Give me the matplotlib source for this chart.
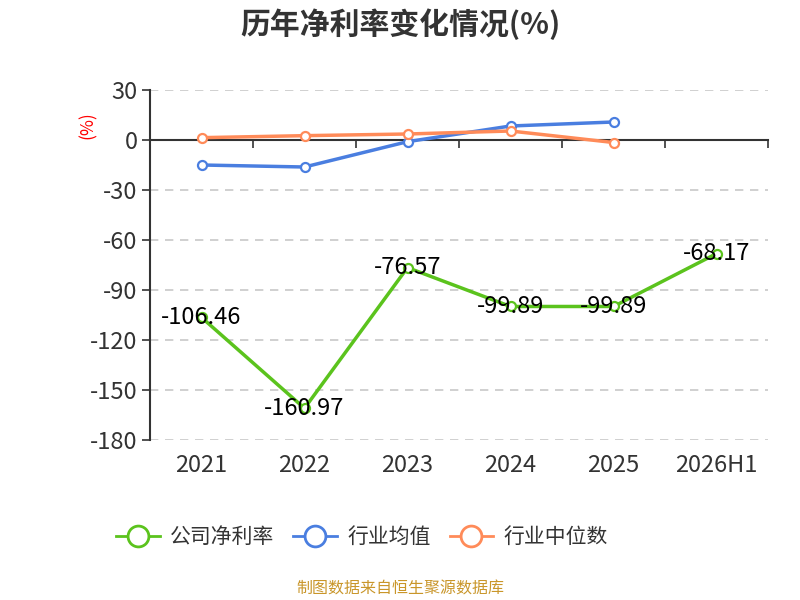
import matplotlib
matplotlib.use("Agg")
import matplotlib.pyplot as plt
from matplotlib.lines import Line2D

plt.rcParams['font.family'] = ['Noto Sans CJK SC', 'DejaVu Sans']
plt.rcParams['axes.unicode_minus'] = False

# ---- data ----
categories = ["2021", "2022", "2023", "2024", "2025", "2026H1"]
company = [-106.46, -160.97, -76.57, -99.89, -99.89, -68.17]
ind_mean = [-15.0, -16.2, -1.0, 8.4, 10.8]
ind_median = [1.4, 2.6, 3.6, 5.4, -1.5]
yticks = [30, 0, -30, -60, -90, -120, -150, -180]

GREEN = "#5BC31D"
BLUE = "#4A7EE0"
ORANGE = "#FF8B59"
AXC = "#333333"

fig = plt.figure(figsize=(8, 6), dpi=100)
ax = fig.add_axes([150 / 800, 1 - 440 / 600, 618 / 800, 350 / 600])

x = list(range(len(categories)))
ax.set_xlim(-0.5, len(categories) - 0.5)
ax.set_ylim(-180, 30)

# grid
for v in yticks:
    if v != 0:
        ax.axhline(v, color="#c8c8c8", lw=1.2, ls=(0, (5, 4)), zorder=0)

# spines
for side in ["top", "right"]:
    ax.spines[side].set_visible(False)
ax.spines["left"].set_color(AXC)
ax.spines["left"].set_linewidth(1.5)
ax.spines["bottom"].set_position(("data", 0))
ax.spines["bottom"].set_color(AXC)
ax.spines["bottom"].set_linewidth(1.5)

ax.set_yticks(yticks)
ax.set_yticklabels([str(v) for v in yticks])
ax.tick_params(axis="y", direction="out", length=6, width=1.2, color=AXC,
               labelsize=17, labelcolor=AXC, pad=3)
ax.set_xticks([i - 0.5 for i in range(len(categories) + 1)])
ax.set_xticklabels([])
ax.tick_params(axis="x", direction="out", length=6, width=1.2, color=AXC)

for i, c in enumerate(categories):
    ax.annotate(c, (i, 0), xycoords=("data", "axes fraction"), xytext=(0, -26),
                textcoords="offset pixels", ha="center", va="center",
                fontsize=17, color=AXC)

mk = dict(marker="o", markersize=6.5, markerfacecolor="white", markeredgewidth=1.6)
ax.plot(x, company, color=GREEN, lw=2.5, markeredgecolor=GREEN, zorder=3, **mk)
ax.plot(x[:len(ind_mean)], ind_mean, color=BLUE, lw=2.5, markeredgecolor=BLUE, zorder=3, **mk)
ax.plot(x[:len(ind_median)], ind_median, color=ORANGE, lw=2.5, markeredgecolor=ORANGE, zorder=3, **mk)

for i, v in enumerate(company):
    ax.text(i, v, f"{v:.2f}", ha="center", va="center", fontsize=17,
            color="black", zorder=4)

fig.text(88 / 800, 1 - 125 / 600, "(%)", rotation=90, color="red",
         fontsize=12.5, ha="center", va="center")

fig.text(0.5, 1 - 24 / 600, "历年净利率变化情况(%)", ha="center", va="center",
         fontsize=21.5, fontweight="bold", color="#333333")

handles = [
    Line2D([], [], color=c, lw=2, marker="o", markersize=15,
           markerfacecolor="white", markeredgewidth=2)
    for c in (GREEN, BLUE, ORANGE)
]
fig.legend(handles, ["公司净利率", "行业均值", "行业中位数"], loc="center",
           bbox_to_anchor=(362 / 800, 1 - 537 / 600), ncol=3, frameon=False,
           fontsize=15, handlelength=2.1, handletextpad=0.5, columnspacing=0.9,
           labelcolor="#333333")

fig.text(0.5, 1 - 589 / 600, "制图数据来自恒生聚源数据库", ha="center", va="center",
         fontsize=11.5, color="#C9962A")

fig.savefig("out.png", dpi=100)
